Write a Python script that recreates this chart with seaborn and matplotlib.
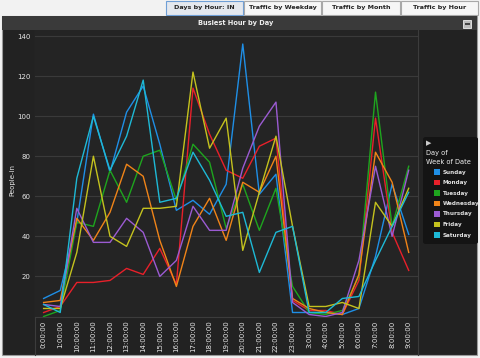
import matplotlib
matplotlib.use("Agg")
import matplotlib.pyplot as plt
from matplotlib.patches import Rectangle, FancyBboxPatch
import seaborn as sns
import pandas as pd

hours = ["0:00:00", "1:00:00", "10:00:00", "11:00:00", "12:00:00", "13:00:00",
         "14:00:00", "15:00:00", "16:00:00", "17:00:00", "18:00:00", "19:00:00",
         "20:00:00", "21:00:00", "22:00:00", "23:00:00", "3:00:00", "4:00:00",
         "5:00:00", "6:00:00", "7:00:00", "8:00:00", "9:00:00"]

days = ["Sunday", "Monday", "Tuesday", "Wednesday", "Thursday", "Friday", "Saturday"]

sunday = [9, 13, 47, 101, 72, 102, 115, 86, 53, 58, 51, 66, 136, 61, 71, 2, 2, 2, 1, 4, 30, 66, 41]
monday = [2, 5, 17, 17, 18, 24, 21, 34, 16, 114, 91, 73, 69, 85, 89, 8, 3, 3, 1, 18, 99, 42, 23]
tuesday = [0, 3, 47, 45, 73, 57, 80, 83, 58, 86, 77, 44, 66, 43, 64, 15, 2, 1, 3, 20, 112, 45, 75]
wednesday = [7, 8, 49, 38, 52, 76, 70, 38, 15, 45, 59, 38, 67, 62, 80, 9, 4, 2, 1, 21, 82, 67, 32]
thursday = [6, 5, 54, 37, 37, 49, 42, 20, 28, 55, 43, 43, 74, 95, 107, 7, 1, 0, 2, 28, 75, 40, 73]
friday = [4, 4, 32, 80, 40, 35, 54, 54, 55, 122, 84, 99, 33, 62, 90, 45, 5, 5, 7, 4, 57, 45, 64]
saturday = [6, 2, 69, 100, 73, 90, 118, 57, 59, 82, 68, 50, 52, 22, 42, 45, 2, 2, 9, 10, 28, 45, 62]

colors = ["#1f8fe6", "#e8202a", "#1ea51e", "#f08418", "#9b5bd2", "#c4c21e", "#1eb9d6"]

tabs = ["Days by Hour: IN", "Traffic by Weekday", "Traffic by Month", "Traffic by Hour"]

series = [sunday, monday, tuesday, wednesday, thursday, friday, saturday]
rows = []
for d, vals in zip(days, series):
    for i, v in enumerate(vals):
        rows.append({"pos": i, "hour": hours[i], "value": v, "day": d})
df = pd.DataFrame(rows)

W, H = 480, 358
fig = plt.figure(figsize=(W / 100, H / 100), dpi=100)
fig.patch.set_facecolor("#f2f2f2")

def fx(px):
    return px / W

def fy(py):
    return 1 - py / H

# Tabs
tab_x = [166, 244, 322, 401]
tab_w = [77, 77, 78, 77]
for k, (t, x0, w) in enumerate(zip(tabs, tab_x, tab_w)):
    ec = "#6f9fd6" if k == 0 else "#a8a8a8"
    fc = "#e4e8ee" if k == 0 else "#f6f6f6"
    fig.patches.append(Rectangle((fx(x0), fy(14.5)), fx(w), 13.5 / H,
                                 transform=fig.transFigure, facecolor=fc,
                                 edgecolor=ec, linewidth=0.8, zorder=-2))
    fig.text(fx(x0 + w / 2), fy(7.5), t, ha="center", va="center",
             fontsize=4.6, fontweight="bold", color="#222222")

# Dark panel
fig.patches.append(Rectangle((fx(2), fy(355)), fx(475), (355 - 16) / H,
                             transform=fig.transFigure, facecolor="#222222",
                             edgecolor="#9a9a9a", linewidth=0.8, zorder=-3))
# Title bar
fig.patches.append(Rectangle((fx(2), fy(30)), fx(475), 14 / H,
                             transform=fig.transFigure, facecolor="#3a3a3a",
                             edgecolor="none", zorder=-2))
fig.text(fx(236), fy(23.5), "Busiest Hour by Day", ha="center", va="center",
         fontsize=4.8, fontweight="bold", color="#f0f0f0")
fig.patches.append(Rectangle((fx(463), fy(28)), fx(8), 8 / H,
                             transform=fig.transFigure, facecolor="#bbbbbb",
                             edgecolor="#eeeeee", linewidth=0.6, zorder=-1))
fig.patches.append(Rectangle((fx(464.5), fy(24.5)), fx(5), 1.2 / H,
                             transform=fig.transFigure, facecolor="#444444",
                             edgecolor="none", zorder=-0.5))

# Separators
fig.add_artist(plt.Line2D([fx(418), fx(418)], [fy(355), fy(30)],
                          transform=fig.transFigure, color="#3c3c3c",
                          linewidth=0.8, zorder=-1))
fig.add_artist(plt.Line2D([fx(35), fx(35)], [fy(355), fy(30)],
                          transform=fig.transFigure, color="#3c3c3c",
                          linewidth=0.8, zorder=-1))

ax = fig.add_axes([fx(35), fy(316.5), fx(418 - 35), (316.5 - 30) / H])
ax.set_facecolor("#242424")

sns.lineplot(data=df, x="pos", y="value", hue="day", hue_order=days,
             palette=colors, linewidth=1.0, ax=ax, legend=False, sort=False)

ax.set_xlim(-0.52, 22.56)
ax.set_ylim(0, 143)
ax.set_yticks([20, 40, 60, 80, 100, 120, 140])
ax.set_yticklabels(["20", "40", "60", "80", "100", "120", "140"])
ax.set_xticks(range(len(hours)))
ax.set_xticklabels(hours, rotation=90)
ax.tick_params(axis="both", length=0, colors="#e6e6e6", labelsize=5.0, pad=3)
ax.grid(axis="y", color="#3a3a3a", linewidth=0.8)
ax.grid(axis="x", visible=False)
ax.set_axisbelow(True)
for s in ["top", "right", "left"]:
    ax.spines[s].set_visible(False)
ax.spines["bottom"].set_color("#3c3c3c")
ax.spines["bottom"].set_linewidth(0.8)
ax.set_xlabel("")
ax.set_ylabel("")
fig.text(fx(12), fy(180), "People-in", rotation=90, ha="center", va="center",
         fontsize=5.0, color="#e6e6e6")

# Legend box
fig.patches.append(FancyBboxPatch((fx(423), fy(244)), fx(55), (244 - 137) / H,
                                  boxstyle="round,pad=0,rounding_size=0.006",
                                  transform=fig.transFigure, facecolor="#141414",
                                  edgecolor="none"))
fig.text(fx(426), fy(143), "\u25B6", ha="left", va="center", fontsize=5,
         color="#cccccc")
fig.text(fx(426), fy(153), "Day of", ha="left", va="center", fontsize=4.8,
         color="#f0f0f0")
fig.text(fx(426), fy(161.5), "Week of Date", ha="left", va="center", fontsize=4.8,
         color="#f0f0f0")
for k, (d, c) in enumerate(zip(days, colors)):
    yy = 172 + k * 10.5
    fig.patches.append(Rectangle((fx(434), fy(yy + 2.8)), fx(5.5), 5.5 / H,
                                 transform=fig.transFigure, facecolor=c,
                                 edgecolor="none"))
    fig.text(fx(442.5), fy(yy), d, ha="left", va="center", fontsize=4.1,
             fontweight="bold", color="#e0e0e0")

fig.savefig("out.png", dpi=100, facecolor=fig.get_facecolor())
